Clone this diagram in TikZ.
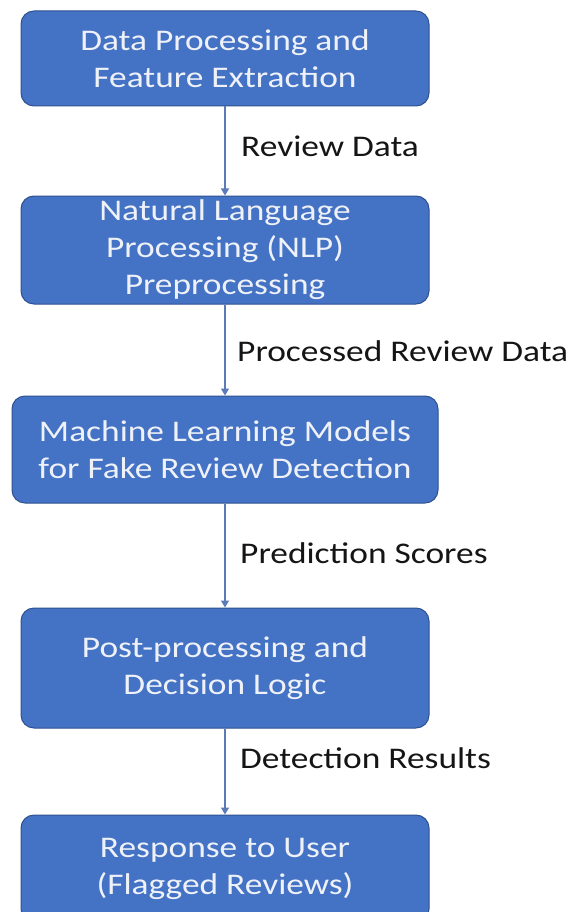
\documentclass[tikz,border=0pt]{standalone}
\usepackage{fontspec}
\usetikzlibrary{arrows.meta}
\newfontfamily\boxfont[FakeStretch=1.18]{Carlito}
\definecolor{boxfill}{HTML}{4472C4}
\definecolor{boxline}{HTML}{2F528F}
\definecolor{boxtext}{HTML}{EEF2F8}
\definecolor{arrowcol}{HTML}{5B7BB8}
\definecolor{labeltext}{HTML}{151515}
\tikzset{
  stepbox/.style={draw=boxline, line width=1pt, fill=boxfill, rounded corners=13pt,
    text=boxtext, align=center, inner sep=0pt,
    font={\boxfont\fontsize{30}{37}\selectfont}},
  flowarrow/.style={draw=arrowcol, line width=1.2pt, -{Triangle[width=8pt,length=7pt]}},
  flowlabel/.style={anchor=base west, inner sep=0pt, text=labeltext,
    font={\boxfont\fontsize{30}{37}\selectfont}}
}
\begin{document}
\begin{tikzpicture}[x=1pt,y=-1pt]
\useasboundingbox (0,0) rectangle (571,912);
\clip (0,0) rectangle (571,912);
\fill[white] (0,0) rectangle (571,912);

\node[stepbox, minimum width=408pt, minimum height=95pt] (b1) at (225,58.5)
  {Data Processing and\\Feature Extraction};
\node[stepbox, minimum width=408pt, minimum height=108pt] (b2) at (225,250)
  {Natural Language\\Processing (NLP)\\Preprocessing};
\node[stepbox, minimum width=426pt, minimum height=107pt] (b3) at (225,449.5)
  {Machine Learning Models\\for Fake Review Detection};
\node[stepbox, minimum width=408pt, minimum height=120pt] (b4) at (225,668)
  {Post-processing and\\Decision Logic};
\node[stepbox, minimum width=408pt, minimum height=107pt] (b5) at (225,868.5)
  {Response to User\\(Flagged Reviews)};

\draw[flowarrow] (b1.south) -- (b2.north);
\draw[flowarrow] (b2.south) -- (b3.north);
\draw[flowarrow] (b3.south) -- (b4.north);
\draw[flowarrow] (b4.south) -- (b5.north);

\node[flowlabel] (l1) at (241,157) {Review Data};
\node[flowlabel] (l2) at (237,361) {Processed Review Data};
\node[flowlabel] (l3) at (240,563) {Prediction Scores};
\node[flowlabel] (l4) at (240,768) {Detection Results};
\end{tikzpicture}
\end{document}
